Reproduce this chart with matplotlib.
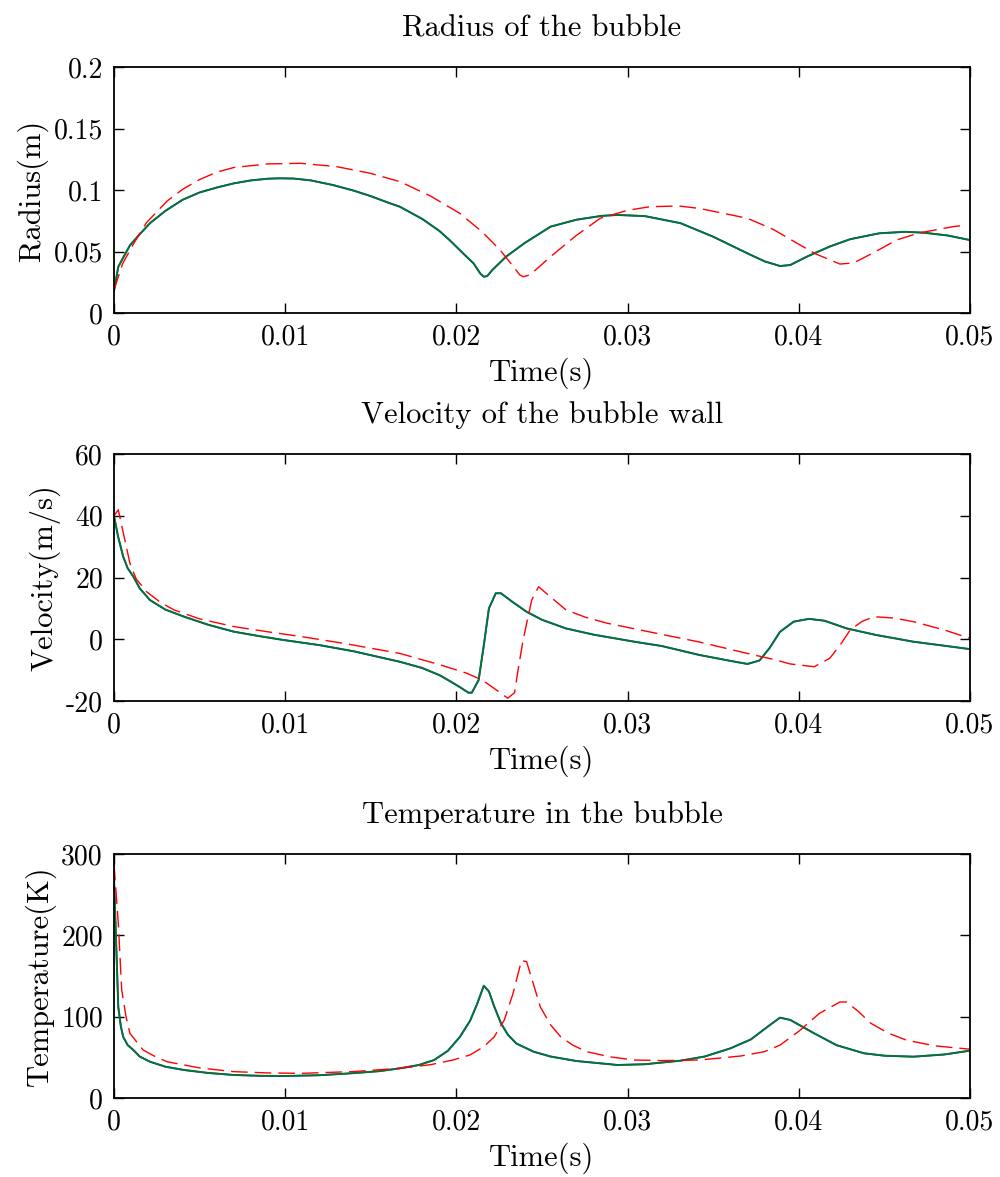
import matplotlib
matplotlib.use('Agg')
import matplotlib.pyplot as plt

plt.rcParams['font.family'] = ['cmr10', 'DejaVu Serif']
plt.rcParams['mathtext.fontset'] = 'cm'
plt.rcParams['axes.unicode_minus'] = False

# radius of the bubble (m)
t_r_sim = [0, 0.00025, 0.0005, 0.00093, 0.0015, 0.0021, 0.003, 0.004, 0.005, 0.006, 0.007, 0.008, 0.009,
           0.0097, 0.0105, 0.0115, 0.0128, 0.014, 0.015, 0.016, 0.0167, 0.018, 0.019, 0.0196, 0.0205,
           0.021, 0.0214, 0.0216, 0.0218, 0.0221, 0.0229, 0.024, 0.0255, 0.027, 0.0285, 0.0294, 0.031,
           0.0331, 0.035, 0.037, 0.038, 0.0389, 0.0395, 0.0405, 0.0418, 0.043, 0.0447, 0.0462, 0.0473,
           0.0487, 0.05]
r_sim = [0.018, 0.0376, 0.044, 0.055, 0.064, 0.073, 0.083, 0.092, 0.098, 0.102, 0.1054, 0.1078, 0.1092,
         0.1095, 0.1093, 0.1078, 0.104, 0.0995, 0.095, 0.0898, 0.0864, 0.0765, 0.0668, 0.0593, 0.047,
         0.0404, 0.032, 0.0295, 0.030, 0.035, 0.0458, 0.057, 0.0702, 0.0758, 0.079, 0.0797, 0.0788,
         0.073, 0.062, 0.0485, 0.042, 0.0382, 0.039, 0.046, 0.054, 0.060, 0.0648, 0.066, 0.0653,
         0.063, 0.0593]
t_r_ref = [0, 0.0005, 0.00113, 0.0019, 0.0031, 0.004, 0.005, 0.006, 0.007, 0.009, 0.0109, 0.013, 0.015,
           0.0167, 0.0185, 0.0202, 0.0215, 0.02255, 0.0232, 0.0237, 0.0239, 0.0243, 0.0255, 0.027, 0.0284,
           0.030, 0.0313, 0.033, 0.0342, 0.037, 0.0385, 0.0399, 0.041, 0.0424, 0.0432, 0.0445, 0.0457,
           0.047, 0.049, 0.0495]
r_ref = [0.0187, 0.040, 0.056, 0.0735, 0.091, 0.1005, 0.1085, 0.1145, 0.1183, 0.1212, 0.1217, 0.119, 0.1135,
         0.1068, 0.095, 0.081, 0.066, 0.0512, 0.040, 0.031, 0.0295, 0.031, 0.0458, 0.063, 0.077,
         0.0835, 0.0864, 0.087, 0.085, 0.077, 0.068, 0.0567, 0.048, 0.0398, 0.0407, 0.050, 0.0593,
         0.065, 0.0702, 0.071]

# velocity of the bubble wall (m/s)
t_v_sim = [0, 0.00025, 0.00054, 0.0008, 0.00113, 0.0015, 0.0021, 0.003, 0.0041, 0.0055, 0.007, 0.0085,
           0.0099, 0.012, 0.014, 0.0167, 0.018, 0.019, 0.0196, 0.0202, 0.0207, 0.0209, 0.0213, 0.0216,
           0.0219, 0.0223, 0.0226, 0.0233, 0.0241, 0.025, 0.0264, 0.028, 0.0304, 0.032, 0.0342, 0.036,
           0.037, 0.0377, 0.0383, 0.0389, 0.0397, 0.0406, 0.0415, 0.0428, 0.0445, 0.0467, 0.0485, 0.05]
v_sim = [39.9, 33, 26.7, 23, 20.3, 16.5, 12.7, 9.6, 7.3, 4.7, 2.45, 1.0,
         -0.24, -1.9, -3.9, -7.3, -9.3, -11.6, -13.5, -15.5, -17.3, -17.3, -13.2, -2,
         10, 14.9, 14.9, 12.0, 8.9, 6.3, 3.5, 1.5, -0.8, -2.2, -5.1, -7.0,
         -8.0, -6.9, -2.8, 2.4, 5.7, 6.6, 6.0, 3.5, 1.4, -0.8, -2.1, -3.2]
t_v_ref = [0, 0.00025, 0.0006, 0.00093, 0.0013, 0.0019, 0.0027, 0.0035, 0.005, 0.007, 0.009, 0.0109,
           0.0135, 0.0167, 0.019, 0.0206, 0.0215, 0.0222, 0.023, 0.0234, 0.0236, 0.0239, 0.0244, 0.0248,
           0.0255, 0.0264, 0.0275, 0.0288, 0.031, 0.0342, 0.037, 0.0385, 0.0395, 0.0409, 0.0418, 0.0424,
           0.043, 0.0437, 0.0444, 0.0455, 0.0467, 0.0485, 0.05]
v_ref = [40, 41.9, 33, 24.6, 19.5, 15.4, 12.0, 9.5, 6.6, 4.1, 2.4, 0.9,
         -1.4, -4.6, -8.2, -11, -13.2, -15.9, -19.1, -17.3, -10, -0.1, 12.7, 17.0,
         13.7, 9.5, 7.2, 5.2, 2.7, -0.9, -4.6, -6.5, -8.0, -8.9, -6.2, -2,
         3.0, 5.8, 7.3, 6.9, 5.7, 3.0, 0.3]

# temperature in the bubble (K)
t_T_sim = [0, 0.00012, 0.00025, 0.0004, 0.00054, 0.0008, 0.00113, 0.0015, 0.0021, 0.003, 0.0041, 0.0055,
           0.007, 0.0085, 0.0099, 0.012, 0.0138, 0.0155, 0.0167, 0.0178, 0.0187, 0.0195, 0.0202, 0.0208,
           0.0212, 0.0216, 0.0219, 0.0222, 0.0226, 0.023, 0.0235, 0.0245, 0.0255, 0.027, 0.0294, 0.031,
           0.0331, 0.0345, 0.036, 0.0372, 0.0382, 0.0389, 0.0395, 0.0409, 0.0422, 0.0438, 0.045, 0.0467,
           0.0485, 0.05]
T_sim = [270, 194, 112, 88, 75, 65, 59, 51, 44.6, 38.5, 34.4, 30.8,
         28.3, 27.3, 27, 28, 30.3, 33, 36.5, 40.5, 46.7, 58, 75, 95,
         115, 138, 131, 113, 92, 78, 67, 57, 51, 45.5, 40.6, 41.5,
         45.9, 51, 61, 72, 88, 98.8, 96, 79.5, 65, 55, 52, 50.8,
         53.5, 58.2]
t_T_ref = [0, 0.00025, 0.00045, 0.0007, 0.00093, 0.0017, 0.0024, 0.0031, 0.005, 0.007, 0.009, 0.0109,
           0.014, 0.0167, 0.0185, 0.0198, 0.0208, 0.0216, 0.0222, 0.0228, 0.0233, 0.0238, 0.0241, 0.0245,
           0.0249, 0.0255, 0.0261, 0.0268, 0.0276, 0.029, 0.0304, 0.032, 0.0342, 0.0366, 0.038, 0.0389,
           0.040, 0.0412, 0.0424, 0.0428, 0.0435, 0.0442, 0.0452, 0.0463, 0.048, 0.05]
T_ref = [288, 215, 133, 100, 79.5, 59, 51, 44.6, 37, 32.4, 30.8, 30.3,
         32.5, 36.5, 41, 46.7, 53, 63, 75, 96, 128, 169, 167.6, 140,
         112, 90, 75, 65, 57, 50.5, 46.7, 46, 46.7, 51.6, 57, 65,
         82, 104, 118, 118, 106, 92, 80, 71, 64, 60]

xticks = [0, 0.01, 0.02, 0.03, 0.04, 0.05]
xticklabels = ['0', '0.01', '0.02', '0.03', '0.04', '0.05']

panels = [
    ('Radius of the bubble', 'Radius(m)', t_r_sim, r_sim, t_r_ref, r_ref,
     [0, 0.05, 0.1, 0.15, 0.2], ['0', '0.05', '0.1', '0.15', '0.2']),
    ('Velocity of the bubble wall', 'Velocity(m/s)', t_v_sim, v_sim, t_v_ref, v_ref,
     [-20, 0, 20, 40, 60], ['-20', '0', '20', '40', '60']),
    ('Temperature in the bubble', 'Temperature(K)', t_T_sim, T_sim, t_T_ref, T_ref,
     [0, 100, 200, 300], ['0', '100', '200', '300']),
]

fig = plt.figure(figsize=(10, 11.77), dpi=100)
bottoms = [1 - 313 / 1177, 1 - 701 / 1177, 1 - 1098 / 1177]
heights = [246 / 1177, 247 / 1177, 244 / 1177]

for (title, ylabel, ts, ys, tr, yr, yt, ytl), b, h in zip(panels, bottoms, heights):
    ax = fig.add_axes([0.114, b, 0.856, h])
    ax.plot(ts, ys, color='#1f3fbf', lw=1.4)
    ax.plot(ts, ys, color='#007a1f', lw=1.2)
    ax.plot(tr, yr, color='red', lw=1.0, dashes=(12, 5))
    ax.set_xlim(0, 0.05)
    ax.set_ylim(yt[0], yt[-1])
    ax.set_xticks(xticks)
    ax.set_xticklabels(xticklabels)
    ax.set_yticks(yt)
    ax.set_yticklabels(ytl)
    ax.tick_params(direction='in', top=True, right=True, length=7, width=1, labelsize=20, pad=8)
    for s in ax.spines.values():
        s.set_linewidth(1.3)
    ax.set_title(title, fontsize=22, pad=22)
    ax.set_xlabel('Time(s)', fontsize=22, labelpad=5)
    ax.set_ylabel(ylabel, fontsize=22, labelpad=4)

fig.savefig('out.png', dpi=100)
